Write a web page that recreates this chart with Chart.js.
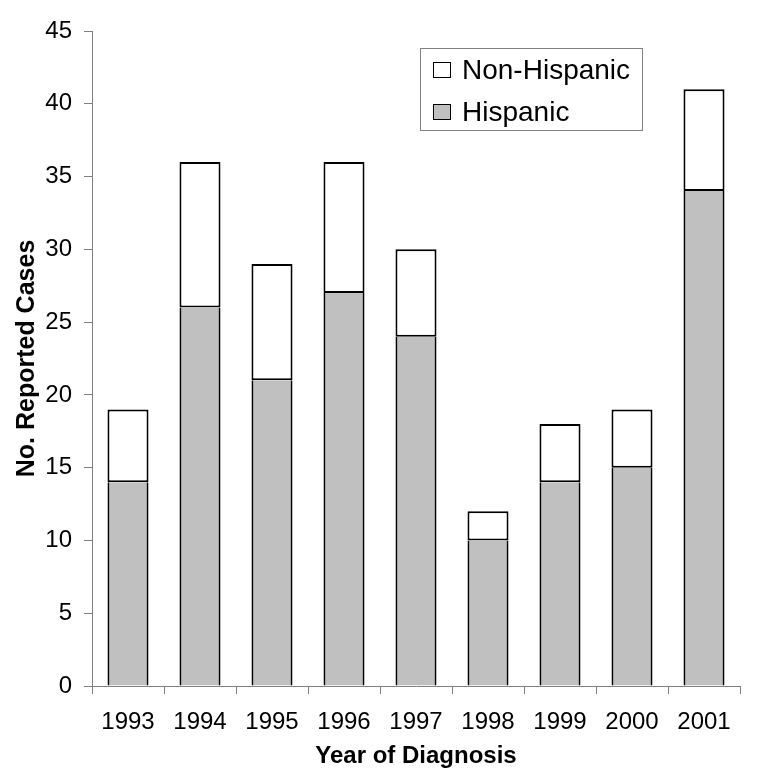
<!DOCTYPE html>
<html>
<head>
<meta charset="utf-8">
<script src="https://cdn.jsdelivr.net/npm/chart.js@4/dist/chart.umd.min.js"></script>
<style>
  html, body { margin: 0; padding: 0; background: #fff; }
  #wrap { width: 766px; height: 784px; }
</style>
</head>
<body>
<div id="wrap"><canvas id="chart" width="766" height="784"></canvas></div>
<script>
// dati
var years = ['1993', '1994', '1995', '1996', '1997', '1998', '1999', '2000', '2001'];
var hispanic = [14, 26, 21, 27, 24, 10, 14, 15, 34];
var nonHispanic = [5, 10, 8, 9, 6, 2, 4, 4, 7];
var yTicks = [0, 5, 10, 15, 20, 25, 30, 35, 40, 45];

var fontFamily = 'Arial, "Liberation Sans", sans-serif';

//legenda disegnata a mano dentro l'area del grafico
var boxLegend = {
  id: 'boxLegend',
  afterDraw: function(chart) {
    var ctx = chart.ctx;
    var items = [chart.data.datasets[1], chart.data.datasets[0]];
    ctx.save();
    ctx.strokeStyle = '#808080';
    ctx.lineWidth = 1;
    ctx.strokeRect(420.5, 48.5, 222, 82);
    ctx.font = '28px ' + fontFamily;
    ctx.textBaseline = 'middle';
    for (var i = 0; i < items.length; i++) {
      var y = 70 + i * 42;
      ctx.fillStyle = items[i].backgroundColor;
      ctx.fillRect(434, y - 7, 16, 14);
      ctx.strokeStyle = '#000';
      ctx.strokeRect(433.5, y - 7.5, 17, 15);
      ctx.fillStyle = '#000';
      ctx.fillText(items[i].label, 462, y + 1);
    }
    ctx.restore();
  }
};

new Chart(document.getElementById('chart'), {
  type: 'bar',
  data: {
    labels: years,
    datasets: [{
      label: 'Hispanic',
      data: hispanic,
      backgroundColor: '#c0c0c0',
      borderColor: '#000',
      borderWidth: { left: 2, right: 2, top: 0, bottom: 0 },
      borderSkipped: false
    }, {
      label: 'Non-Hispanic',
      data: nonHispanic,
      backgroundColor: '#ffffff',
      borderColor: '#000',
      borderWidth: { left: 2, right: 2, top: 2, bottom: 2 },
      borderSkipped: false
    }]
  },
  options: {
    responsive: false,
    animation: false,
    layout: { padding: { top: 31, right: 26, left: 0, bottom: 0 } },
    datasets: { bar: { categoryPercentage: 1, barPercentage: 0.57 } },
    plugins: {
      legend: { display: false },
      tooltip: { enabled: false }
    },
    scales: {
      x: {
        stacked: true,
        afterFit: function(scale) { scale.height = 98; },
        grid: { drawOnChartArea: false, tickLength: 8, color: '#808080', offset: true },
        border: { color: '#808080', width: 1 },
        ticks: { color: '#000', font: { size: 24, family: fontFamily }, maxRotation: 0, padding: 14 },
        title: { display: true, text: 'Year of Diagnosis', color: '#000',
                 font: { size: 24, weight: 'bold', family: fontFamily }, padding: { top: 0, bottom: 13 } }
      },
      y: {
        stacked: true,
        min: 0,
        max: 45,
        afterBuildTicks: function(scale) {
          scale.ticks = yTicks.map(function(v) { return { value: v }; });
        },
        afterFit: function(scale) { scale.width = 92; },
        grid: { drawOnChartArea: false, tickLength: 8, color: '#808080' },
        border: { color: '#808080', width: 1 },
        ticks: { color: '#000', font: { size: 24, family: fontFamily }, padding: 12 },
        title: { display: true, text: 'No. Reported Cases', color: '#000',
                 font: { size: 25, weight: 'bold', family: fontFamily }, padding: { top: 12, bottom: 0 } }
      }
    }
  },
  plugins: [boxLegend]
});
</script>
</body>
</html>
